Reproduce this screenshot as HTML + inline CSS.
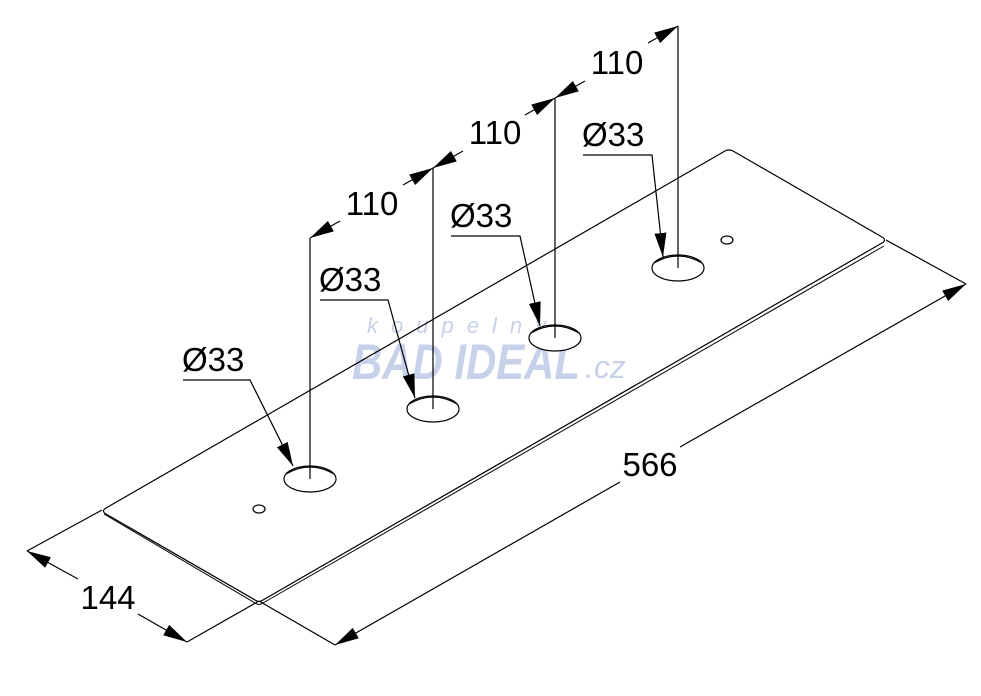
<!DOCTYPE html>
<html><head><meta charset="utf-8"><style>
html,body{margin:0;padding:0;background:#fff;}
svg{display:block;}
text{font-family:"Liberation Sans",sans-serif;fill:#000;}
</style></head><body>
<svg width="981" height="696" viewBox="0 0 981 696" xmlns="http://www.w3.org/2000/svg">
<defs>
<marker id="b" markerWidth="24" markerHeight="12" refX="24" refY="6" orient="auto" markerUnits="userSpaceOnUse" viewBox="0 0 24 12">
<path d="M0,0 L24,6 L0,12 z" fill="#000"/></marker>
</defs>
<path d="M106,508 Q101,511 106,514 L255,600 Q259,603 263,600 L882,243 Q887,240 882,237 L733,151 Q729,149 725,151 Z" fill="#fff"/>
<!-- watermark -->
<text x="367" y="333" font-size="22" font-style="italic" style="fill:#c8d1ea;letter-spacing:13px">koupelny</text>
<text x="352" y="379" font-size="50" font-weight="bold" font-style="italic" textLength="228" lengthAdjust="spacingAndGlyphs" style="fill:#c8d1ea">BAD IDEAL</text>
<text x="585" y="378" font-size="32" font-style="italic" style="fill:#c8d1ea">.cz</text>
<g fill="none" stroke="#000" stroke-width="1.2">
<!-- plate -->
<path d="M106,508 Q101,511 106,514 L255,600 Q259,603 263,600 L882,243 Q887,240 882,237 L733,151 Q729,149 725,151 Z"/>
<path d="M104,514 L255,603 Q259,606 263,603 L884,246" stroke-width="1"/>
<!-- holes -->
<ellipse cx="310" cy="479" rx="26" ry="13" fill="#fff"/>
<path d="M286,474 Q310,460 334,474"/>
<ellipse cx="433" cy="409" rx="26" ry="13" fill="#fff"/>
<path d="M409,404 Q433,390 457,404"/>
<ellipse cx="555" cy="338" rx="26" ry="13" fill="#fff"/>
<path d="M531,333 Q555,319 579,333"/>
<ellipse cx="678" cy="268" rx="26" ry="13" fill="#fff"/>
<path d="M654,263 Q678,249 702,263"/>
<ellipse cx="259" cy="509" rx="6" ry="4"/>
<ellipse cx="727" cy="240" rx="6" ry="4"/>
<!-- vertical extension lines -->
<line x1="310" y1="479" x2="310" y2="238"/>
<line x1="433" y1="409" x2="433" y2="168"/>
<line x1="555" y1="338" x2="555" y2="98"/>
<line x1="678" y1="268" x2="678" y2="26"/>
<!-- 110 dims -->
<line x1="340" y1="221" x2="310" y2="238" marker-end="url(#b)"/>
<line x1="403" y1="185" x2="433" y2="168" marker-end="url(#b)"/>
<line x1="463" y1="151" x2="433" y2="168" marker-end="url(#b)"/>
<line x1="525" y1="115" x2="555" y2="98" marker-end="url(#b)"/>
<line x1="585" y1="81" x2="555" y2="98" marker-end="url(#b)"/>
<line x1="648" y1="43" x2="678" y2="26" marker-end="url(#b)"/>
<!-- overall dims extension -->
<line x1="102" y1="510" x2="27" y2="551"/>
<line x1="259" y1="601" x2="187" y2="642"/>
<line x1="259" y1="601" x2="335" y2="645"/>
<line x1="886" y1="240" x2="966" y2="284"/>
<line x1="78" y1="579" x2="27" y2="551" marker-end="url(#b)"/>
<line x1="138" y1="614" x2="187" y2="642" marker-end="url(#b)"/>
<line x1="620" y1="482" x2="335" y2="645" marker-end="url(#b)"/>
<line x1="680" y1="447" x2="966" y2="284" marker-end="url(#b)"/>
<!-- Ø33 leaders -->
<polyline points="183,380 250,380 293,466" marker-end="url(#b)"/>
<polyline points="320,300 388,300 415,398" marker-end="url(#b)"/>
<polyline points="451,236 520,236 540,326" marker-end="url(#b)"/>
<polyline points="583,155 652,155 663,257" marker-end="url(#b)"/>
</g>
<g font-size="33">
<text x="372" y="215" text-anchor="middle">110</text>
<text x="495" y="144" text-anchor="middle">110</text>
<text x="617" y="74" text-anchor="middle">110</text>
<text x="650" y="476" text-anchor="middle">566</text>
<text x="108" y="609" text-anchor="middle">144</text>
<text x="182" y="371">Ø33</text>
<text x="319" y="291">Ø33</text>
<text x="450" y="227">Ø33</text>
<text x="582" y="146">Ø33</text>
</g>
</svg>
</body></html>
